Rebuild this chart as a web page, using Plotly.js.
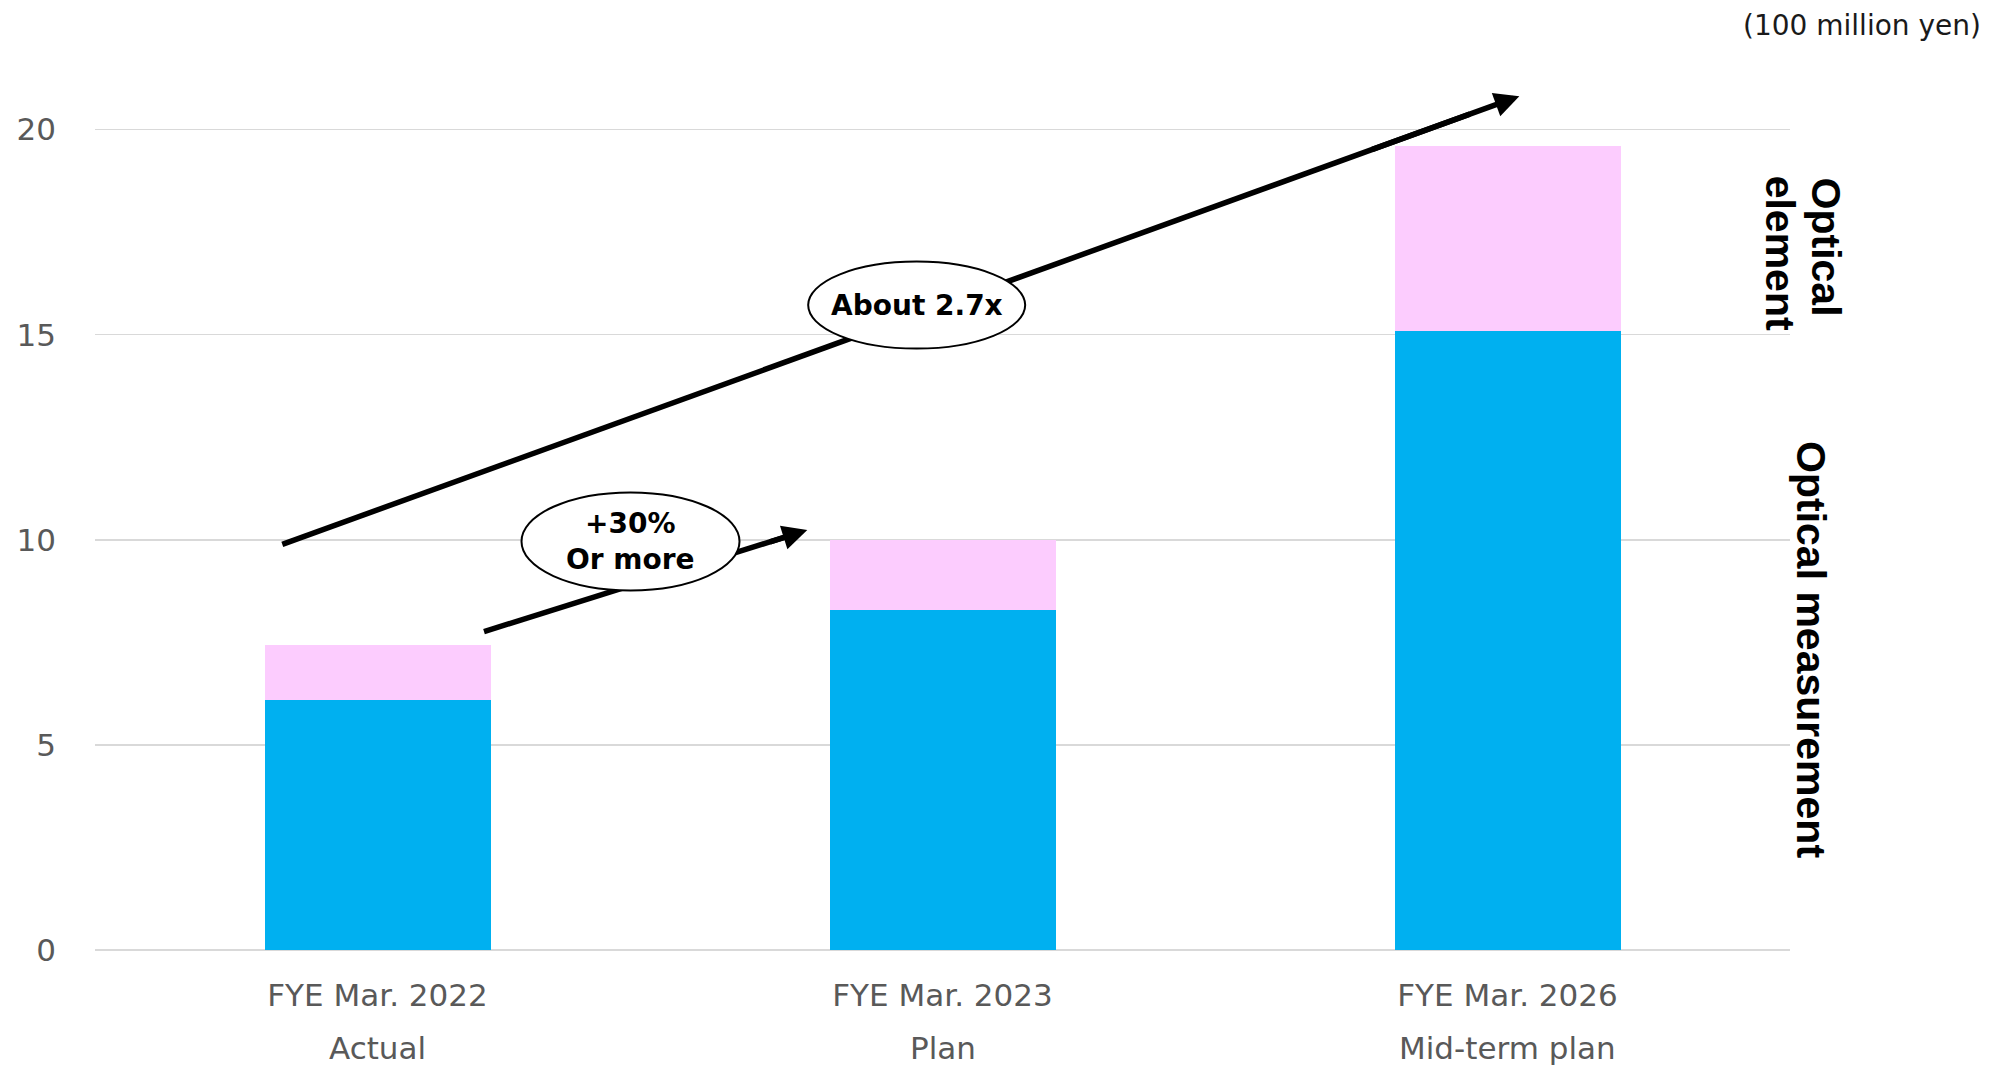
<!DOCTYPE html>
<html>
<head>
<meta charset="utf-8">
<script src="https://cdn.plot.ly/plotly-3.0.1.min.js"></script>
<style>
  html, body { margin: 0; padding: 0; background: #ffffff; }
  #chart { width: 1989px; height: 1065px; }
</style>
</head>
<body>
<div id="chart"></div>
<script>
// ---------- data ----------
const categories = ['FYE Mar. 2022', 'FYE Mar. 2023', 'FYE Mar. 2026'];
const subLabels = ['Actual', 'Plan', 'Mid-term plan'];
const opticalMeasurement = [6.1, 8.3, 15.1];
const opticalElement = [1.33, 1.7, 4.5];
const yTicks = [0, 5, 10, 15, 20];
const unitLabel = '(100 million yen)';
const seriesNames = ['Optical measurement', 'Optical element'];
const growthLabels = ['+30%<br>Or more', 'About 2.7x'];

// ---------- styles / layout helpers ----------
const BLUE = '#00B0F0';
const PINK = '#FCCCFE';
const GRID = '#D9D9D9';
const TICK = '#595959';

// arrows: tail / head in axis coordinates, bubble centre and pixel size
const arrows = [
  {tail: [0.1885, 7.76], head: [0.7607, 10.236], bubble: [0.4478, 9.96], bw: 218, bh: 98},
  {tail: [-0.1685, 9.888], head: [2.0209, 20.814], bubble: [0.9543, 15.72], bw: 217, bh: 87}
];

const traces = [
  {
    type: 'bar', name: seriesNames[0], x: categories, y: opticalMeasurement,
    marker: {color: BLUE, line: {width: 0}}, hoverinfo: 'skip'
  },
  {
    type: 'bar', name: seriesNames[1], x: categories, y: opticalElement,
    marker: {color: PINK, line: {width: 0}}, hoverinfo: 'skip'
  }
];

const shapes = [];
const annotations = [];

arrows.forEach((a) => {
  const dx = a.head[0] - a.tail[0];
  const dy = a.head[1] - a.tail[1];
  shapes.push({
    type: 'line', xref: 'x', yref: 'y', layer: 'above',
    x0: a.tail[0], y0: a.tail[1],
    x1: a.tail[0] + dx * 0.96, y1: a.tail[1] + dy * 0.96,
    line: {color: '#000000', width: 5.5}
  });
});
arrows.forEach((a, i) => {
  shapes.push({
    type: 'circle', layer: 'above',
    xref: 'x', yref: 'y', xsizemode: 'pixel', ysizemode: 'pixel',
    xanchor: a.bubble[0], yanchor: a.bubble[1],
    x0: -a.bw / 2, x1: a.bw / 2, y0: -a.bh / 2, y1: a.bh / 2,
    fillcolor: '#ffffff', line: {color: '#000000', width: 2}
  });
  const dx = a.head[0] - a.tail[0];
  const dy = a.head[1] - a.tail[1];
  annotations.push({
    xref: 'x', yref: 'y', axref: 'x', ayref: 'y',
    x: a.head[0], y: a.head[1],
    ax: a.tail[0] + dx * 0.88, ay: a.tail[1] + dy * 0.88,
    text: '', showarrow: true, arrowhead: 2, arrowsize: 0.9,
    arrowwidth: 5.5, arrowcolor: '#000000', standoff: 0
  });
  annotations.push({
    xref: 'x', yref: 'y', x: a.bubble[0], y: a.bubble[1],
    text: '<b>' + growthLabels[i] + '</b>', showarrow: false,
    xanchor: 'center', yanchor: 'middle',
    font: {family: 'DejaVu Sans', size: 28, color: '#000000'}
  });
});

categories.forEach((c, i) => {
  annotations.push({
    xref: 'x', yref: 'paper', x: i, y: 0, yshift: -98,
    text: subLabels[i], showarrow: false,
    xanchor: 'center', yanchor: 'middle',
    font: {family: 'DejaVu Sans', size: 31, color: TICK}
  });
});

annotations.push({
  xref: 'paper', yref: 'paper', x: 1.1139, y: 1.0485,
  text: unitLabel, showarrow: false, xanchor: 'right', yanchor: 'middle',
  font: {family: 'DejaVu Sans', size: 28, color: '#1a1a1a'}
});

const sideFont = {family: 'Liberation Sans, Arial, sans-serif', size: 41, color: '#000000', weight: 'bold'};
annotations.push({
  xref: 'paper', yref: 'paper', x: 1.0124, y: 0.3412,
  text: '<b>' + seriesNames[0] + '</b>', showarrow: false, textangle: 90,
  xanchor: 'center', yanchor: 'middle', font: sideFont
});
const elementWords = seriesNames[1].split(' ');
annotations.push({
  xref: 'paper', yref: 'paper', x: 1.0212, y: 0.7965,
  text: '<b>' + elementWords[0] + '</b>', showarrow: false, textangle: 90,
  xanchor: 'center', yanchor: 'middle', font: sideFont
});
annotations.push({
  xref: 'paper', yref: 'paper', x: 0.9941, y: 0.7895,
  text: '<b>' + elementWords[1] + '</b>', showarrow: false, textangle: 90,
  xanchor: 'center', yanchor: 'middle', font: sideFont
});

const layout = {
  width: 1989, height: 1065,
  margin: {l: 95, r: 199, t: 67.8, b: 115, pad: 0},
  paper_bgcolor: '#ffffff', plot_bgcolor: '#ffffff',
  barmode: 'stack', bargap: 0.6,
  showlegend: false,
  font: {family: 'DejaVu Sans', color: TICK},
  xaxis: {
    type: 'category', range: [-0.5, 2.5],
    showgrid: false, showline: false, zeroline: false, ticks: '',
    tickfont: {family: 'DejaVu Sans', size: 31, color: TICK},
    ticklabelstandoff: 24, fixedrange: true
  },
  yaxis: {
    range: [0, 21.5], tickvals: yTicks, ticktext: yTicks.map(String),
    showgrid: true, gridcolor: GRID, gridwidth: 1.5,
    zeroline: true, zerolinecolor: GRID, zerolinewidth: 1.5,
    showline: false, ticks: '',
    tickfont: {family: 'DejaVu Sans', size: 31, color: TICK},
    ticklabelstandoff: 38, fixedrange: true
  },
  shapes: shapes,
  annotations: annotations
};

Plotly.newPlot('chart', traces, layout, {staticPlot: true, displayModeBar: false});
</script>
</body>
</html>
